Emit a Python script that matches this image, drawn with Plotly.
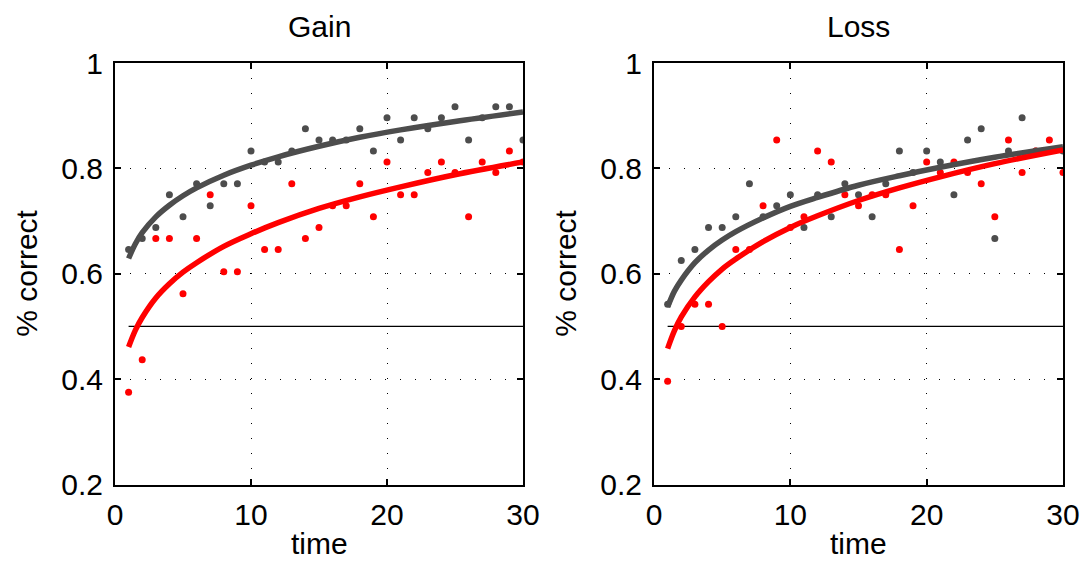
import plotly.graph_objects as go

# ---------------- data ----------------
time = list(range(1, 31))

gain_gray = [0.646, 0.667, 0.688, 0.750, 0.708, 0.771, 0.729, 0.771, 0.771, 0.833,
             0.812, 0.812, 0.833, 0.875, 0.854, 0.854, 0.854, 0.875, 0.833, 0.896,
             0.854, 0.896, 0.875, 0.896, 0.917, 0.854, 0.896, 0.917, 0.917, 0.854]
gain_red = [0.375, 0.437, 0.667, 0.667, 0.562, 0.667, 0.750, 0.604, 0.604, 0.729,
            0.646, 0.646, 0.771, 0.667, 0.688, 0.729, 0.729, 0.771, 0.708, 0.812,
            0.750, 0.750, 0.792, 0.812, 0.792, 0.708, 0.812, 0.792, 0.833, 0.812]

loss_gray = [0.542, 0.625, 0.646, 0.688, 0.688, 0.708, 0.771, 0.708, 0.729, 0.750,
             0.688, 0.750, 0.708, 0.771, 0.750, 0.708, 0.771, 0.833, 0.792, 0.833,
             0.812, 0.750, 0.854, 0.875, 0.667, 0.833, 0.896, 0.833, 0.833, 0.833]
loss_red = [0.396, 0.500, 0.542, 0.542, 0.500, 0.646, 0.646, 0.729, 0.854, 0.688,
            0.708, 0.833, 0.812, 0.750, 0.729, 0.750, 0.750, 0.646, 0.729, 0.812,
            0.792, 0.812, 0.792, 0.771, 0.708, 0.854, 0.792, 0.833, 0.854, 0.792]

# fitted curves
fit_x = [1, 1.5, 2, 3, 4, 5, 6, 8, 10, 12, 15, 18, 21, 25, 30]
gain_gray_fit = [0.629, 0.657, 0.678, 0.708, 0.730, 0.748, 0.763, 0.787, 0.806,
                 0.822, 0.842, 0.859, 0.873, 0.889, 0.907]
gain_red_fit = [0.461, 0.493, 0.517, 0.554, 0.581, 0.603, 0.621, 0.652, 0.676,
                0.697, 0.724, 0.746, 0.765, 0.788, 0.812]
loss_gray_fit = [0.537, 0.567, 0.588, 0.621, 0.645, 0.664, 0.680, 0.706, 0.728,
                 0.745, 0.768, 0.786, 0.802, 0.821, 0.841]
loss_red_fit = [0.458, 0.492, 0.518, 0.556, 0.585, 0.609, 0.628, 0.661, 0.688,
                0.710, 0.739, 0.763, 0.784, 0.809, 0.835]

chance_x = [1, 30]
chance_y = [0.5, 0.5]

titles = ["Gain", "Loss"]
x_title = "time"
y_title = "% correct"
x_ticks = [0, 10, 20, 30]
y_ticks = [0.2, 0.4, 0.6, 0.8, 1.0]
y_ticktext = ["0.2", "0.4", "0.6", "0.8", "1"]

GRAY = "#4d4d4d"
RED = "#ff0000"
FONT = "Liberation Sans, Arial, Helvetica, sans-serif"
FS = 30

fig = go.Figure()

panels = [
    ("x", "y", gain_gray, gain_red, gain_gray_fit, gain_red_fit),
    ("x2", "y2", loss_gray, loss_red, loss_gray_fit, loss_red_fit),
]
for xa, ya, g, r, gf, rf in panels:
    fig.add_trace(go.Scatter(x=chance_x, y=chance_y, mode="lines",
                             line=dict(color="black", width=1.2),
                             xaxis=xa, yaxis=ya, showlegend=False, hoverinfo="skip"))
    fig.add_trace(go.Scatter(x=time, y=g, mode="markers",
                             marker=dict(color=GRAY, size=7),
                             xaxis=xa, yaxis=ya, showlegend=False))
    fig.add_trace(go.Scatter(x=time, y=r, mode="markers",
                             marker=dict(color=RED, size=7),
                             xaxis=xa, yaxis=ya, showlegend=False))
    fig.add_trace(go.Scatter(x=fit_x, y=gf, mode="lines", line_shape="spline",
                             line=dict(color=GRAY, width=5.5),
                             xaxis=xa, yaxis=ya, showlegend=False))
    fig.add_trace(go.Scatter(x=fit_x, y=rf, mode="lines", line_shape="spline",
                             line=dict(color=RED, width=5.5),
                             xaxis=xa, yaxis=ya, showlegend=False))

W, H = 1085, 568
X0 = [115, 654]
X1 = [523, 1063]
YT, YB = 63, 484.5
dom_x = [[X0[i] / W, X1[i] / W] for i in range(2)]
dom_y = [(H - YB) / H, (H - YT) / H]

axis_common = dict(
    showline=True, linecolor="black", linewidth=2, mirror="allticks",
    ticks="inside", ticklen=6, tickcolor="black", tickwidth=1.5,
    showgrid=True, gridcolor="black", griddash="1px,14px", gridwidth=1,
    zeroline=False, automargin=False,
    tickfont=dict(family=FONT, size=FS, color="black"),
)

layout = dict(
    width=W, height=H, paper_bgcolor="white", plot_bgcolor="white",
    margin=dict(l=0, r=0, t=0, b=0), showlegend=False,
    font=dict(family=FONT, color="black"),
)
for i in range(2):
    sfx = "" if i == 0 else str(i + 1)
    layout["xaxis" + sfx] = dict(
        axis_common, domain=dom_x[i], range=[0, 30], tickvals=x_ticks,
        anchor="y" + sfx, ticklabelstandoff=2,
    )
    layout["yaxis" + sfx] = dict(
        axis_common, domain=dom_y, range=[0.2, 1.0], tickvals=y_ticks,
        ticktext=y_ticktext, anchor="x" + sfx, ticklabelstandoff=4,
    )
fig.update_layout(**layout)

for i, t in enumerate(titles):
    cx = (dom_x[i][0] + dom_x[i][1]) / 2
    fig.add_annotation(text=t, x=cx, y=(H - 27) / H,
                       xref="paper", yref="paper", showarrow=False,
                       xanchor="center", yanchor="middle",
                       font=dict(family=FONT, size=FS, color="black"))
    fig.add_annotation(text=x_title, x=cx, y=(H - 543) / H,
                       xref="paper", yref="paper", showarrow=False,
                       xanchor="center", yanchor="middle",
                       font=dict(family=FONT, size=FS, color="black"))
    fig.add_annotation(text=y_title, x=(X0[i] - 88) / W, y=(H - (YT + YB) / 2) / H,
                       xref="paper", yref="paper", showarrow=False, textangle=-90,
                       xanchor="center", yanchor="middle",
                       font=dict(family=FONT, size=FS, color="black"))

fig.write_html("out.html")
